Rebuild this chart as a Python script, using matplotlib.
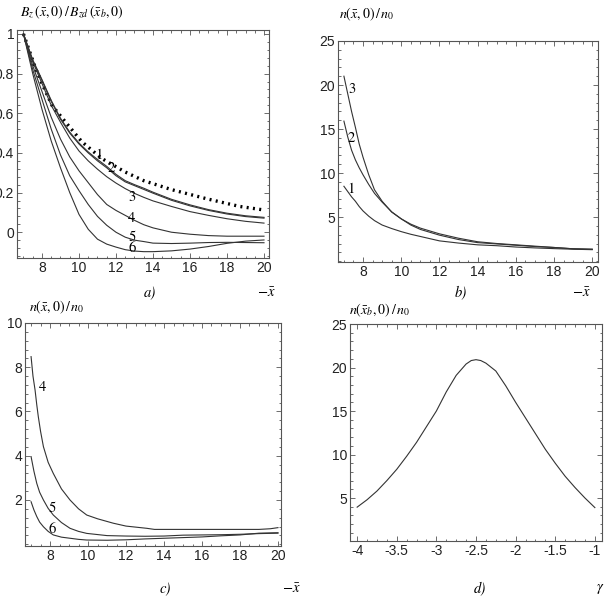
import matplotlib
matplotlib.use("Agg")
import matplotlib.pyplot as plt
from matplotlib.ticker import AutoMinorLocator, FixedLocator, FixedFormatter

plt.rcParams['mathtext.fontset'] = 'stix'
plt.rcParams['axes.unicode_minus'] = False
plt.rcParams['font.family'] = ['Liberation Sans Narrow', 'Liberation Sans', 'DejaVu Sans']

# ---------------- Panel a data ----------------
xa_dot = [7.0, 7.64, 8.0, 8.54, 9.26, 10.16, 11.23, 12.49, 13.5, 15.0, 16.89, 18.69, 19.94]
ya_dot = [1.0, 0.83, 0.75, 0.64, 0.557, 0.456, 0.372, 0.304, 0.26, 0.215, 0.169, 0.13, 0.113]

xa = [7.0, 7.5, 8.0, 8.5, 9.0, 9.5, 10.0, 10.5, 11.0, 11.5, 12.0, 12.5, 13.0, 13.5, 14.0,
      15.0, 16.0, 17.0, 18.0, 19.0, 20.0]
ya_1 = [1.0, 0.87, 0.77, 0.665, 0.575, 0.505, 0.45, 0.405, 0.367, 0.332, 0.292, 0.26, 0.24, 0.222, 0.202,
        0.166, 0.138, 0.114, 0.096, 0.083, 0.075]
ya_2 = [1.0, 0.865, 0.765, 0.66, 0.57, 0.5, 0.445, 0.4, 0.36, 0.325, 0.285, 0.254, 0.235, 0.216, 0.197,
        0.161, 0.133, 0.11, 0.092, 0.079, 0.071]
ya_3 = [1.0, 0.86, 0.75, 0.64, 0.555, 0.475, 0.41, 0.36, 0.318, 0.28, 0.248, 0.22, 0.196, 0.176, 0.158,
        0.13, 0.104, 0.085, 0.068, 0.055, 0.046]
ya_4 = [1.0, 0.84, 0.71, 0.58, 0.47, 0.38, 0.31, 0.25, 0.19, 0.14, 0.11, 0.085, 0.06, 0.038, 0.022,
        0.0, -0.01, -0.017, -0.02, -0.02, -0.02]
ya_5 = [1.0, 0.82, 0.67, 0.52, 0.39, 0.285, 0.21, 0.14, 0.08, 0.035, 0.0, -0.025, -0.04, -0.047, -0.055,
        -0.057, -0.055, -0.052, -0.051, -0.052, -0.053]
ya_6 = [1.0, 0.80, 0.62, 0.46, 0.325, 0.2, 0.09, 0.015, -0.035, -0.06, -0.075, -0.088, -0.095, -0.098, -0.098,
        -0.094, -0.085, -0.072, -0.056, -0.045, -0.039]
labels_a = ['1', '2', '3', '4', '5', '6']
labpos_a = [(11.1, 0.39), (11.77, 0.32), (12.85, 0.177), (12.85, 0.068), (12.85, -0.025), (12.9, -0.082)]

# ---------------- Panel b data ----------------
xb = [7.0, 7.2, 7.4, 7.6, 7.8, 8.0, 8.3, 8.6, 9.0, 9.5, 10.0, 10.5, 11.0, 12.0, 13.0, 14.0, 15.0,
      16.0, 17.0, 18.0, 19.0, 20.0]
yb_3 = [21.0, 19.0, 17.0, 15.2, 13.3, 11.8, 9.8, 8.1, 6.8, 5.57, 4.8, 4.2, 3.75, 3.1, 2.6, 2.2, 2.0,
        1.85, 1.7, 1.55, 1.4, 1.35]
yb_2 = [15.9, 14.1, 12.6, 11.5, 10.6, 9.8, 8.7, 7.7, 6.7, 5.6, 4.8, 4.1, 3.6, 2.95, 2.45, 2.1, 1.95,
        1.8, 1.65, 1.55, 1.4, 1.35]
yb_1 = [8.5, 7.9, 7.3, 6.8, 6.2, 5.7, 5.1, 4.6, 4.1, 3.7, 3.35, 3.05, 2.8, 2.3, 2.05, 1.85, 1.75,
        1.6, 1.5, 1.42, 1.35, 1.3]
labels_b = ['3', '2', '1']
labpos_b = [(7.44, 19.5), (7.39, 13.9), (7.36, 8.2)]

# ---------------- Panel c data ----------------
xc_4 = [7.0, 7.1, 7.21, 7.3, 7.38, 7.5, 7.65, 7.9, 8.17, 8.6, 9.05, 9.5, 9.93, 10.5, 11.33, 12.0,
        13.09, 13.5, 15.0, 17.0, 19.0, 19.6, 20.0]
yc_4 = [8.48, 7.6, 6.97, 6.3, 5.77, 5.1, 4.41, 3.7, 3.2, 2.5, 2.0, 1.6, 1.32, 1.15, 0.95, 0.82,
        0.72, 0.67, 0.67, 0.67, 0.67, 0.7, 0.75]
xc_56 = [7.0, 7.15, 7.3, 7.45, 7.65, 7.9, 8.17, 8.6, 9.05, 9.5, 9.93, 11.0, 12.0, 13.0, 14.0, 15.0,
         16.0, 17.0, 18.0, 19.0, 20.0]
yc_5 = [3.96, 3.3, 2.75, 2.35, 2.0, 1.62, 1.32, 0.98, 0.72, 0.58, 0.49, 0.39, 0.37, 0.36, 0.37, 0.41,
        0.42, 0.43, 0.45, 0.48, 0.5]
yc_6 = [1.92, 1.55, 1.25, 1.0, 0.79, 0.58, 0.42, 0.32, 0.27, 0.22, 0.19, 0.18, 0.2, 0.24, 0.27, 0.3,
        0.33, 0.38, 0.42, 0.5, 0.52]
labels_c = ['4', '5', '6']
labpos_c = [(7.62, 7.1), (8.09, 1.62), (8.12, 0.68)]

# ---------------- Panel d data ----------------
gamma_d = [-4.0, -3.875, -3.75, -3.625, -3.5, -3.375, -3.25, -3.125, -3.0, -2.875, -2.75, -2.625,
           -2.56, -2.5, -2.44, -2.375, -2.25, -2.125, -2.0, -1.875, -1.75, -1.625, -1.5, -1.375,
           -1.25, -1.125, -1.0]
nd = [3.95, 4.8, 5.8, 7.0, 8.3, 9.8, 11.4, 13.2, 15.0, 17.2, 19.1, 20.4,
      20.8, 20.9, 20.8, 20.5, 19.6, 17.9, 16.0, 14.2, 12.4, 10.6, 9.0, 7.5,
      6.2, 5.0, 3.9]

# tick labels
xt_a = [8, 10, 12, 14, 16, 18, 20]
yt_a = [0, 0.2, 0.4, 0.6, 0.8, 1.0]
ytl_a = ['0', '0.2', '0.4', '0.6', '0.8', '1']
yt_b = [5, 10, 15, 20, 25]
yt_c = [2, 4, 6, 8, 10]
xt_d = [-4, -3.5, -3, -2.5, -2, -1.5, -1]
xtl_d = ['-4', '-3.5', '-3', '-2.5', '-2', '-1.5', '-1']
yt_d = [5, 10, 15, 20, 25]

W, H = 604, 599
fig = plt.figure(figsize=(W / 100, H / 100), dpi=100)


def box(l, t, r, b):
    return [l / W, 1 - b / H, (r - l) / W, (b - t) / H]


lc = '#333333'
lw = 0.8
serif = 'STIXGeneral'


def style(ax, xt, yt, xtl=None, ytl=None):
    ax.xaxis.set_major_locator(FixedLocator(xt))
    ax.yaxis.set_major_locator(FixedLocator(yt))
    if xtl is not None:
        ax.xaxis.set_major_formatter(FixedFormatter(xtl))
    if ytl is not None:
        ax.yaxis.set_major_formatter(FixedFormatter(ytl))
    ax.xaxis.set_minor_locator(AutoMinorLocator(4))
    ax.yaxis.set_minor_locator(AutoMinorLocator(5))
    ax.tick_params(which='both', direction='in', top=True, right=True, color='#555555', width=0.6)
    ax.tick_params(which='major', length=3.5, labelsize=10, pad=2, labelcolor='#222222')
    ax.tick_params(which='minor', length=1.8)
    for s in ax.spines.values():
        s.set_linewidth(0.8)
        s.set_color('#555555')


# Panel a
axa = fig.add_axes(box(17, 30, 269, 258))
axa.plot(xa_dot, ya_dot, color='black', lw=2.4, linestyle=(0, (0.6, 1.3)))
for ys in [ya_1, ya_2, ya_3, ya_4, ya_5, ya_6]:
    axa.plot(xa, ys, color=lc, lw=lw)
for lab, (x, y) in zip(labels_a, labpos_a):
    axa.text(x, y, lab, family=serif, fontsize=10.5, ha='center', va='center')
axa.set_xlim(6.65, 20.27)
axa.set_ylim(-0.13, 1.02)
style(axa, xt_a, yt_a, ytl=ytl_a)
fig.text(20 / W, 1 - 12 / H, r'$B_z\,(\bar{x},0)\,/\,B_{zd}\,(\bar{x}_b,0)$', fontsize=10, va='center')
fig.text(150 / W, 1 - 293 / H, 'a)', family=serif, style='italic', fontsize=10.5, ha='center', va='center')
fig.text(266 / W, 1 - 293 / H, r'$-\bar{x}$', fontsize=10.5, ha='center', va='center')

# Panel b
axb = fig.add_axes(box(338, 41, 598, 262))
axb.plot(xb, yb_3, color=lc, lw=lw)
axb.plot(xb, yb_2, color=lc, lw=lw)
axb.plot(xb, yb_1, color=lc, lw=lw)
for lab, (x, y) in zip(labels_b, labpos_b):
    axb.text(x, y, lab, family=serif, fontsize=10.5, ha='center', va='center')
axb.set_xlim(6.69, 20.3)
axb.set_ylim(-0.1, 25)
style(axb, xt_a, yt_b)
fig.text(339 / W, 1 - 14 / H, r'$n(\bar{x},0)\,/\,n_0$', fontsize=10, va='center')
fig.text(461 / W, 1 - 293 / H, 'b)', family=serif, style='italic', fontsize=10.5, ha='center', va='center')
fig.text(581 / W, 1 - 293 / H, r'$-\bar{x}$', fontsize=10.5, ha='center', va='center')

# Panel c
axc = fig.add_axes(box(25, 323, 281, 546))
axc.plot(xc_4, yc_4, color=lc, lw=lw)
axc.plot(xc_56, yc_5, color=lc, lw=lw)
axc.plot(xc_56, yc_6, color=lc, lw=lw)
for lab, (x, y) in zip(labels_c, labpos_c):
    axc.text(x, y, lab, family=serif, fontsize=10.5, ha='center', va='center')
axc.set_xlim(6.68, 20.16)
axc.set_ylim(-0.08, 10)
style(axc, xt_a, yt_c)
fig.text(29 / W, 1 - 307 / H, r'$n(\bar{x},0)\,/\,n_0$', fontsize=10, va='center')
fig.text(165 / W, 1 - 589 / H, 'c)', family=serif, style='italic', fontsize=10.5, ha='center', va='center')
fig.text(291 / W, 1 - 589 / H, r'$-\bar{x}$', fontsize=10.5, ha='center', va='center')

# Panel d
axd = fig.add_axes(box(350, 324, 602, 541))
axd.plot(gamma_d, nd, color=lc, lw=lw)
axd.set_xlim(-4.09, -0.91)
axd.set_ylim(0.06, 25)
style(axd, xt_d, yt_d, xtl=xtl_d)
fig.text(349 / W, 1 - 310 / H, r'$n(\bar{x}_b,0)\,/\,n_0$', fontsize=10, va='center')
fig.text(480 / W, 1 - 589 / H, 'd)', family=serif, style='italic', fontsize=10.5, ha='center', va='center')
fig.text(600 / W, 1 - 589 / H, r'$\gamma$', fontsize=10.5, ha='center', va='center')

fig.savefig('out.png', dpi=100)
